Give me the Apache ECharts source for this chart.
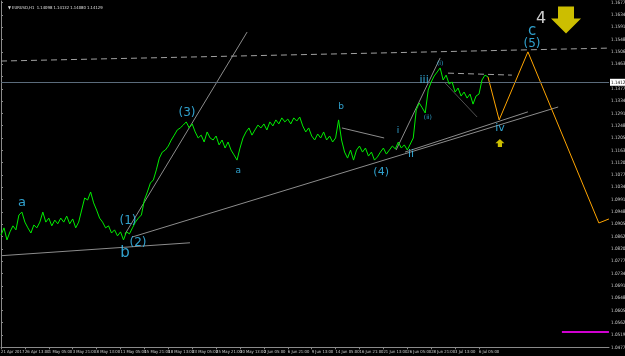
<!DOCTYPE html>
<html><head><meta charset="utf-8">
<script src="https://cdn.jsdelivr.net/npm/echarts@6/dist/echarts.min.js"></script>
<style>html,body{margin:0;padding:0;background:#000;}#c{width:625px;height:356px;}</style>
</head><body><div id="c"></div>
<script>
// time axis: H1 bars counted from 21 Apr 2017 21:00, label every 64 bars
const xTickLabels = ['21 Apr 2017','26 Apr 13:00','1 May 05:00','3 May 21:00','8 May 13:00','11 May 05:00','15 May 21:00','18 May 13:00','23 May 05:00','25 May 21:00','30 May 13:00','2 Jun 05:00','6 Jun 21:00','9 Jun 13:00','14 Jun 05:00','16 Jun 21:00','21 Jun 13:00','26 Jun 05:00','28 Jun 21:00','3 Jul 13:00','6 Jul 05:00'];
const barsPerLabel = 64;
// price axis labels
const yTickStart = 1.04770, yTickStep = 0.0042875, yTickCount = 29;
// EURUSD sampled every 8 H1 bars
const sampleStep = 8;
const prices = [
1.0868,1.0893,1.0851,1.0879,1.0900,1.0886,1.0938,1.0948,1.0913,1.0893,
1.0875,1.0903,1.0893,1.0913,1.0948,1.0913,1.0927,1.0900,1.0920,1.0907,
1.0927,1.0913,1.0934,1.0907,1.0924,1.0893,1.0913,1.0955,1.0997,1.0990,
1.1018,1.0980,1.0955,1.0927,1.0913,1.0893,1.0900,1.0875,1.0886,1.0865,
1.0879,1.0851,1.0879,1.0872,1.0893,1.0913,1.0927,1.0938,1.0990,1.1018,
1.1049,1.1060,1.1095,1.1136,1.1157,1.1164,1.1178,1.1199,1.1216,1.1234,
1.1241,1.1251,1.1262,1.1241,1.1255,1.1227,1.1206,1.1216,1.1192,1.1227,
1.1206,1.1199,1.1213,1.1182,1.1199,1.1171,1.1192,1.1164,1.1147,1.1129,
1.1171,1.1206,1.1227,1.1241,1.1216,1.1234,1.1251,1.1241,1.1255,1.1234,
1.1262,1.1248,1.1269,1.1255,1.1276,1.1262,1.1272,1.1255,1.1276,1.1265,
1.1279,1.1248,1.1227,1.1241,1.1213,1.1199,1.1220,1.1206,1.1227,1.1199,
1.1213,1.1192,1.1206,1.1269,1.1199,1.1157,1.1136,1.1164,1.1129,1.1164,
1.1178,1.1157,1.1171,1.1143,1.1157,1.1129,1.1140,1.1157,1.1171,1.1150,
1.1164,1.1178,1.1168,1.1192,1.1171,1.1182,1.1164,1.1185,1.1206,1.1304,
1.1328,1.1311,1.1293,1.1373,1.1401,1.1422,1.1436,1.1450,1.1408,1.1425,
1.1394,1.1401,1.1366,1.1380,1.1352,1.1366,1.1345,1.1359,1.1324,1.1352,
1.1359,1.1408,1.1425,1.1419
];
// projected path (bar, price)
const projBars = [1304, 1334, 1411, 1601, 1628];
const projPrices = [1.1419, 1.1269, 1.1506, 1.0910, 1.0924];
const currentPrice = 1.14129;
// trendlines: [bar1, price1, bar2, price2]
const trendGrey = [
  [332, 1.0871, 659, 1.1575],
  [351, 1.0861, 1492, 1.1314],
  [1082, 1.1157, 1411, 1.1297],
  [1058, 1.1164, 1176, 1.1485],
  [913, 1.1241, 1026, 1.1206],
  [0, 1.0796, 506, 1.0841]
];
const trendDark = [[1189, 1.1398, 1275, 1.1279]];
const trendDashed = [[0, 1.1474, 1623, 1.1519], [1197, 1.1432, 1368, 1.1425]];
const trendMagenta = [[1502, 1.0530, 1628, 1.0530]];
// wave labels: [text, bar, price, fontSize]
const waveLabels = [
  ['a', 56, 1.0980, 13], ['b', 332, 1.0805, 15], ['(1)', 340, 1.0917, 12], ['(2)', 367, 1.0840, 12],
  ['(3)', 498, 1.1293, 12], ['a', 635, 1.1091, 9], ['b', 911, 1.1314, 9], ['(4)', 1018, 1.1088, 11],
  ['i', 1063, 1.1230, 9], ['ii', 1098, 1.1150, 11], ['iii', 1133, 1.1408, 11], ['(i)', 1176, 1.1464, 6],
  ['(ii)', 1143, 1.1279, 6], ['iv', 1336, 1.1241, 11], ['c', 1422, 1.1579, 15], ['(5)', 1422, 1.1533, 12]
];
const degreeLabel = ['4', 1446, 1.1620];
const bigArrow = [1513, 1.1617];
const smallArrow = [1336, 1.1189];

const pxBar = 23.9 / 64;
const chart = echarts.init(document.getElementById('c'), null, {renderer: 'canvas'});
const xMax = 608 / pxBar;
const yMin = 1.04770, yMax = 1.04770 + 346.3 * 0.0003483;
const tiny = "'Liberation Sans Narrow', 'DejaVu Sans Condensed', sans-serif";
const series = [];
function seg(list, color, type, width) {
  list.forEach(s => series.push({type: 'line', data: [[s[0], s[1]], [s[2], s[3]]], showSymbol: false, silent: true,
    lineStyle: {color: color, width: width || 1, type: type || 'solid'}, z: 2}));
}
seg(trendGrey, '#8c8c8c');
seg(trendDark, '#505050');
seg(trendDashed, '#a0a0a0', [6, 4]);
seg(trendMagenta, '#d000d0', 'solid', 2);
series.push({type: 'line', data: prices.map((p, i) => [i * sampleStep, p]), showSymbol: false, silent: true,
  lineStyle: {color: '#00ee00', width: 1}, z: 5,
  markLine: {silent: true, symbol: 'none', lineStyle: {color: '#5b6b7b', width: 1, type: 'solid'},
    label: {show: true, position: 'end', distance: 1, formatter: currentPrice.toFixed(5), backgroundColor: '#ffffff', color: '#000', fontSize: 4.6, fontFamily: tiny, padding: [1, 1, 1, 1]},
    data: [{yAxis: currentPrice}]}});
series.push({type: 'line', data: projBars.map((b, i) => [b, projPrices[i]]), showSymbol: false, silent: true,
  lineStyle: {color: '#ffa500', width: 1}, z: 4});
series.push({type: 'scatter', symbolSize: 0, silent: true, z: 10,
  data: waveLabels.map(w => ({value: [w[1], w[2]], name: w[0], label: {fontSize: w[3]}})),
  label: {show: true, position: 'inside', formatter: p => p.name, color: '#3cc8ff', fontFamily: 'DejaVu Sans'}});
series.push({type: 'scatter', symbolSize: 0, silent: true, z: 10,
  data: [{value: [degreeLabel[1], degreeLabel[2]], name: degreeLabel[0]}],
  label: {show: true, position: 'inside', formatter: p => p.name, color: '#ffffff', fontSize: 16, fontFamily: 'DejaVu Sans'}});
series.push({type: 'scatter', silent: true, z: 10, data: [bigArrow],
  symbol: 'path://M7,0 L23,0 L23,12 L30,12 L15,27 L0,12 L7,12 Z', symbolSize: [30, 27], itemStyle: {color: '#ffee00'}});
series.push({type: 'scatter', silent: true, z: 10, data: [smallArrow],
  symbol: 'path://M15,0 L30,15 L22,15 L22,27 L8,27 L8,15 L0,15 Z', symbolSize: [9, 8], itemStyle: {color: '#ffee00'}});

const yVals = Array.from({length: yTickCount}, (_, k) => yTickStart + k * yTickStep);
const yLabelVals = yVals.filter(v => Math.abs(v - currentPrice) > yTickStep / 2);
const xVals = xTickLabels.map((_, i) => i * barsPerLabel);

chart.setOption({
  animation: false,
  backgroundColor: '#000000',
  grid: {left: 1, right: 16, top: 1, bottom: 8.7, containLabel: false, outerBoundsMode: 'none', show: false},
  title: {text: '▼ EURUSD,H1  1.14098 1.14132 1.14080 1.14129', left: 3, top: 1,
    textStyle: {color: '#e0e0e0', fontSize: 4.2, fontWeight: 'normal', fontFamily: tiny}},
  xAxis: {type: 'value', min: 0, max: xMax,
    axisLine: {show: true, lineStyle: {color: '#8a8a8a'}},
    axisTick: {show: true, length: 2, lineStyle: {color: '#8a8a8a'}, customValues: xVals},
    splitLine: {show: false},
    axisLabel: {show: true, color: '#d0d0d0', fontSize: 4.2, fontFamily: tiny, align: 'left', margin: 2.5,
      showMinLabel: true, showMaxLabel: true, hideOverlap: false,
      customValues: xVals,
      formatter: v => xTickLabels[Math.round(v / barsPerLabel)] || ''}},
  yAxis: {type: 'value', position: 'right', min: yMin, max: yMax, scale: true,
    axisLine: {show: true, lineStyle: {color: '#8a8a8a'}},
    axisTick: {show: true, length: 2, inside: false, lineStyle: {color: '#8a8a8a'}, customValues: yVals},
    splitLine: {show: false},
    axisLabel: {show: true, color: '#d0d0d0', fontSize: 4.6, fontFamily: tiny, margin: 2,
      showMinLabel: true, showMaxLabel: true, hideOverlap: false,
      customValues: yLabelVals,
      formatter: v => v.toFixed(5)}},
  series: series
});
</script></body></html>
